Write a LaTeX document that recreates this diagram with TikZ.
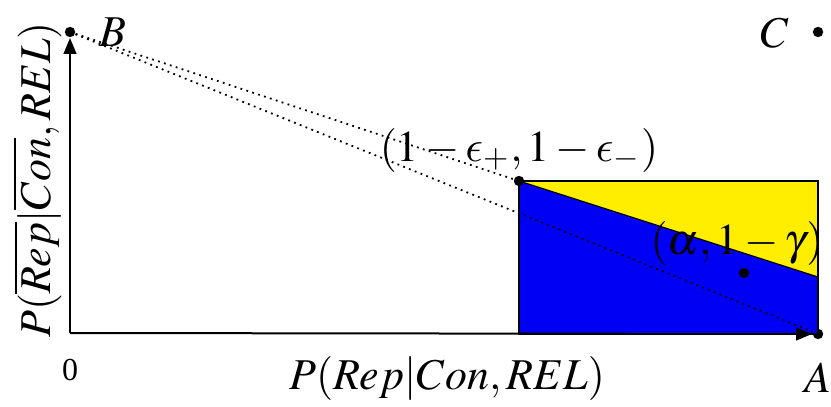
\documentclass[tikz,border=0pt]{standalone}
\usepackage{mathptmx}
\usepackage{fontspec}
\setmainfont{Liberation Serif}
\usepackage{tikz}
\usetikzlibrary{arrows.meta}
% lunate epsilon from the cm letters
\DeclareSymbolFont{cmletters}{OML}{cmm}{m}{it}
\DeclareMathSymbol{\lunateps}{\mathord}{cmletters}{"0F}
\definecolor{regionblue}{RGB}{0,0,245}
\definecolor{regionyellow}{RGB}{255,238,0}
\tikzset{
  dot/.style={circle,fill=black,inner sep=0pt,minimum size=2.6pt},
  lbl/.style={font=\fontsize{11}{13}\selectfont,inner sep=0pt},
  axis/.style={line width=0.5pt,-{Triangle[length=4pt,width=3.2pt]}},
  guide/.style={line width=0.45pt,dash pattern=on 0.45pt off 1.1pt},
}

\begin{document}
\begin{tikzpicture}[x=0.25pt,y=-0.25pt]
  \useasboundingbox (0,0) rectangle (831,406);
  % corners of the unit square
  \coordinate (O) at (70,333);
  \node[dot] (B) at (70,32) {};
  \node[dot] (C) at (818,32) {};
  \node[dot] (A) at (818,334) {};
  % region corners
  \coordinate (ne) at (818,181);
  \coordinate (cut) at (818,277);
  \coordinate (se) at (818,334);
  \coordinate (sw) at (519,334);
  \coordinate (nw) at (519,181);
  % filled regions
  \fill[regionblue] (nw) -- (cut) -- (se) -- (sw) -- cycle;
  \fill[regionyellow] (nw) -- (ne) -- (cut) -- cycle;
  \draw[line width=0.3pt] (nw) rectangle (se);
  \draw[line width=0.3pt] (nw) -- (cut);
  % points
  \node[dot] (E) at (nw) {};
  \node[dot] (G) at (744,273) {};
  % axes
  \draw[axis] (O) -- (A);
  \draw[axis] (O) -- (B);
  % dotted guides from B
  \draw[guide] (B) -- (E);
  \draw[guide] (B) -- (A);
  % labels
  \node[lbl] (labB) at (113,32) {$B$};
  \node[lbl] (labC) at (775,33) {$C$};
  \node[lbl] (labA) at (818,378) {$A$};
  \node[lbl,font=\fontsize{8}{10}\selectfont] (lab0) at (70,370) {0};
  \node[lbl] (xlab) at (447,378) {$P(Rep|Con, REL)$};
  \node[lbl,rotate=90] (ylab) at (37,180) {$P(\overline{Rep}|\overline{Con}, REL)$};
  \node[lbl] (labE) at (519,150) {$(1-\lunateps_{+}, 1-\lunateps_{-})$};
  \node[lbl] (labG) at (737,243) {$(\alpha, 1-\gamma)$};
\end{tikzpicture}
\end{document}
